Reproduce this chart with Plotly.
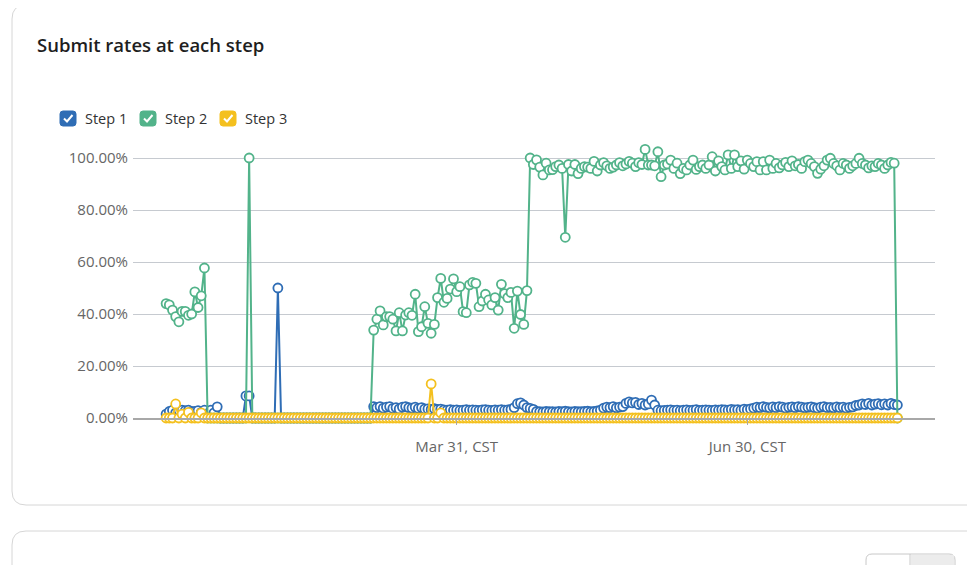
import plotly.graph_objects as go
import pandas as pd

# daily submit rates (%), Dec 31 2023 .. Aug 16 2024
start_day = "2023-12-31"
n_days = 230

step1 = [
    1.5, 2.5, 3.0, 2.0, 3.0, 3.0, 2.8, 3.0, 2.5, 2.5,
    2.8, 2.2, 3.0, 1.5, 3.0, 2.0, 4.3, 0, 0, 0,
    0, 0, 0, 0, 0, 8.5, 8.5, 0, 0, 0,
    0, 0, 0, 0, 0, 50.0, 0, 0, 0, 0,
    0, 0, 0, 0, 0, 0, 0, 0, 0, 0,
    0, 0, 0, 0, 0, 0, 0, 0, 0, 0,
    0, 0, 0, 0, 0, 4.4, 4.0, 4.4, 3.8, 4.2,
    4.4, 3.7, 4.0, 3.5, 4.2, 4.4, 4.0, 3.8, 4.2, 3.7,
    4.0, 3.5, 3.5, 3.3, 3.6, 3.3, 3.4, 3.1, 3.0, 3.2,
    3.0, 3.1, 2.9, 3.0, 3.2, 3.0, 3.1, 3.0, 2.9, 3.1,
    3.2, 3.0, 2.9, 3.1, 3.0, 3.2, 3.0, 3.1, 3.3, 4.0,
    5.5, 5.8, 5.0, 4.0, 3.7, 3.3, 2.5, 2.4, 2.3, 2.5,
    2.4, 2.4, 2.3, 2.5, 2.4, 2.6, 2.4, 2.3, 2.5, 2.4,
    2.4, 2.5, 2.6, 2.4, 2.5, 2.7, 3.0, 3.8, 4.2, 4.0,
    4.4, 3.9, 4.2, 4.4, 5.6, 6.2, 5.8, 6.0, 5.2, 5.6,
    5.0, 5.4, 6.9, 5.0, 3.0, 2.8, 2.9, 3.0, 3.1, 2.9,
    3.0, 2.8, 3.0, 3.1, 2.9, 3.0, 3.2, 2.9, 3.0, 3.1,
    3.0, 2.9, 3.1, 3.0, 3.2, 3.1, 3.0, 3.3, 3.1, 3.2,
    3.0, 3.4, 3.2, 3.5, 3.8, 4.2, 4.0, 4.4, 4.1, 3.9,
    4.3, 4.0, 4.4, 4.2, 3.8, 4.1, 4.3, 4.0, 4.4, 4.2,
    3.9, 4.1, 4.3, 4.0, 3.8, 4.2, 4.4, 4.0, 4.1, 3.9,
    4.3, 4.0, 4.2, 3.8, 4.1, 4.3, 4.8, 5.0, 5.4, 5.2,
    5.6, 5.0, 5.3, 5.5, 5.1, 5.4, 5.0, 5.6, 5.2, 5.0,
]

step2 = [
    44.0, 43.5, 41.5, 39.0, 37.0, 41.0, 41.0, 39.5, 40.0, 48.5,
    42.5, 47.0, 57.7, 0, 0, 0, 0, 0, 0, 0,
    0, 0, 0, 0, 0, 0, 100.0, 0, 0, 0,
    0, 0, 0, 0, 0, 0, 0, 0, 0, 0,
    0, 0, 0, 0, 0, 0, 0, 0, 0, 0,
    0, 0, 0, 0, 0, 0, 0, 0, 0, 0,
    0, 0, 0, 0, 0, 33.8, 38.0, 41.2, 35.8, 39.0,
    39.0, 38.0, 33.5, 40.5, 33.5, 39.6, 40.5, 39.5, 47.6, 33.2,
    35.1, 42.8, 36.4, 32.6, 36.0, 46.3, 53.7, 44.5, 46.0, 49.6,
    53.5, 48.6, 50.5, 40.9, 40.5, 51.2, 52.2, 51.8, 42.8, 45.0,
    47.6, 45.4, 43.5, 46.3, 41.5, 51.4, 47.8, 46.3, 48.3, 34.5,
    48.8, 39.8, 36.0, 49.0, 100.0, 97.5, 99.3, 96.5, 93.5, 98.0,
    95.4, 95.5, 96.7, 97.3, 96.0, 69.5, 97.5, 95.0, 97.5, 94.0,
    96.0, 96.7, 96.5, 96.0, 98.7, 95.0, 97.3, 98.2, 97.0, 96.0,
    96.5, 97.3, 98.2, 97.0, 97.7, 98.7, 98.0, 96.7, 98.2, 97.5,
    103.3, 97.3, 97.3, 97.0, 102.4, 92.8, 97.3, 97.7, 99.2, 96.0,
    98.0, 94.0, 96.0, 95.4, 97.3, 99.2, 95.6, 96.7, 97.3, 96.0,
    97.3, 100.5, 95.0, 98.9, 96.7, 95.4, 101.2, 96.0, 101.2, 96.7,
    98.9, 95.7, 99.2, 97.9, 96.7, 98.6, 95.4, 98.6, 95.4, 99.2,
    96.0, 97.9, 96.2, 97.3, 98.3, 96.7, 98.9, 97.0, 97.5, 96.0,
    98.6, 99.2, 97.9, 96.7, 94.1, 95.7, 97.0, 99.2, 99.9, 97.9,
    97.0, 95.4, 97.9, 97.3, 96.0, 97.0, 97.9, 99.9, 97.9, 97.3,
    96.2, 97.0, 96.7, 97.9, 97.3, 96.0, 97.3, 98.3, 98.0, 0,
]

step3 = [
    0, 0, 0, 5.4, 0, 1.5, 0, 2.2, 0, 0,
    0, 2.0, 0, 0, 0, 0, 0, 0, 0, 0,
    0, 0, 0, 0, 0, 0, 0, 0, 0, 0,
    0, 0, 0, 0, 0, 0, 0, 0, 0, 0,
    0, 0, 0, 0, 0, 0, 0, 0, 0, 0,
    0, 0, 0, 0, 0, 0, 0, 0, 0, 0,
    0, 0, 0, 0, 0, 0, 0, 0, 0, 0,
    0, 0, 0, 0, 0, 0, 0, 0, 0, 0,
    0, 0, 0, 13.1, 0, 0, 2.0, 0, 0, 0,
    0, 0, 0, 0, 0, 0, 0, 0, 0, 0,
    0, 0, 0, 0, 0, 0, 0, 0, 0, 0,
    0, 0, 0, 0, 0, 0, 0, 0, 0, 0,
    0, 0, 0, 0, 0, 0, 0, 0, 0, 0,
    0, 0, 0, 0, 0, 0, 0, 0, 0, 0,
    0, 0, 0, 0, 0, 0, 0, 0, 0, 0,
    0, 0, 0, 0, 0, 0, 0, 0, 0, 0,
    0, 0, 0, 0, 0, 0, 0, 0, 0, 0,
    0, 0, 0, 0, 0, 0, 0, 0, 0, 0,
    0, 0, 0, 0, 0, 0, 0, 0, 0, 0,
    0, 0, 0, 0, 0, 0, 0, 0, 0, 0,
    0, 0, 0, 0, 0, 0, 0, 0, 0, 0,
    0, 0, 0, 0, 0, 0, 0, 0, 0, 0,
    0, 0, 0, 0, 0, 0, 0, 0, 0, 0,
]

series_names = ["Step 1", "Step 2", "Step 3"]
colors = ["#2f6db5", "#52b38a", "#f4c01e"]
y_ticks = [0, 20, 40, 60, 80, 100]
y_tick_text = ["0.00%", "20.00%", "40.00%", "60.00%", "80.00%", "100.00%"]
x_tick_dates = ["2024-03-31", "2024-06-30"]
x_tick_text = ["Mar 31, CST", "Jun 30, CST"]

dates = pd.date_range(start_day, periods=n_days, freq="D")
t0 = pd.Timestamp(start_day)
x_range = [t0 - pd.Timedelta(days=10.37), t0 + pd.Timedelta(days=240.78)]

# page has an 8px body margin, so the figure is shifted up/left by that
OFF = 8
W, H = 975, 565
PX0, PY0 = 133, 148          # plot area top-left on the page
PW, PH = 802, 270
L, T = PX0 - OFF, PY0 - OFF
R, B = W - L - PW, H - T - PH


def px(x):
    return (x - PX0) / PW


def py(y):
    return (PY0 + PH - y) / PH


def rrect(x0, y0, x1, y1, r):
    return (f"M {px(x0 + r)},{py(y0)} L {px(x1 - r)},{py(y0)} "
            f"Q {px(x1)},{py(y0)} {px(x1)},{py(y0 + r)} L {px(x1)},{py(y1 - r)} "
            f"Q {px(x1)},{py(y1)} {px(x1 - r)},{py(y1)} L {px(x0 + r)},{py(y1)} "
            f"Q {px(x0)},{py(y1)} {px(x0)},{py(y1 - r)} L {px(x0)},{py(y0 + r)} "
            f"Q {px(x0)},{py(y0)} {px(x0 + r)},{py(y0)} Z")


fig = go.Figure()
for name, vals, c in zip(series_names, [step1, step2, step3], colors):
    fig.add_trace(go.Scatter(
        x=dates, y=vals, name=name, mode="lines+markers",
        line=dict(color=c, width=2),
        marker=dict(symbol="circle", size=9, color="white",
                    line=dict(color=c, width=1.8)),
        cliponaxis=False, showlegend=False,
    ))

shapes = [
    dict(type="path", path=rrect(12, 5, 995, 505, 14), xref="paper", yref="paper",
         line=dict(color="#d6d6d6", width=1), layer="below"),
    dict(type="path", path=rrect(12, 531, 995, 620, 14), xref="paper", yref="paper",
         line=dict(color="#d6d6d6", width=1), layer="below"),
    dict(type="path", path=rrect(866, 554, 955, 590, 6), xref="paper", yref="paper",
         line=dict(color="#c8c8c8", width=1), layer="below"),
    dict(type="rect", x0=px(911), x1=px(954), y0=py(566), y1=py(555), xref="paper",
         yref="paper", line=dict(width=0), fillcolor="#ececec", layer="below"),
    dict(type="line", x0=px(910), x1=px(910), y0=py(566), y1=py(554), xref="paper",
         yref="paper", line=dict(color="#c8c8c8", width=1)),
]

annotations = [
    dict(text="Submit rates at each step", x=px(35), y=py(45), xref="paper", yref="paper",
         xanchor="left", yanchor="middle", showarrow=False,
         font=dict(family="Open Sans", size=18.5, color="#1e1e1e", weight=600)),
]

# checkbox legend
legend_x = [60, 140, 220]
for name, c, lx in zip(series_names, colors, legend_x):
    shapes.append(dict(type="path", path=rrect(lx, 111, lx + 16, 126, 3), xref="paper",
                       yref="paper", fillcolor=c, line=dict(color=c, width=1)))
    shapes.append(dict(type="path",
                       path=f"M {px(lx + 4)},{py(118.5)} L {px(lx + 7)},{py(121.5)} "
                            f"L {px(lx + 12.5)},{py(115)}",
                       xref="paper", yref="paper", line=dict(color="white", width=2)))
    annotations.append(dict(text=name, x=px(lx + 23), y=py(118.5), xref="paper",
                            yref="paper", xanchor="left", yanchor="middle", showarrow=False,
                            font=dict(family="Open Sans", size=14.5, color="#333333")))

fig.update_layout(
    width=W, height=H,
    margin=dict(l=L, r=R, t=T, b=B),
    paper_bgcolor="white", plot_bgcolor="white",
    font=dict(family="Open Sans", color="#666666"),
    shapes=shapes, annotations=annotations,
    showlegend=False,
)
fig.update_xaxes(
    type="date", range=x_range, tickvals=x_tick_dates, ticktext=x_tick_text,
    showgrid=False, showline=True, linecolor="#a8a8a8", linewidth=1.5,
    ticks="outside", ticklen=5, tickcolor="#a8a8a8", tickfont=dict(size=15, color="#666666"),
    ticklabelstandoff=9, zeroline=False,
)
fig.update_yaxes(
    range=[0, PH / 2.6], tickvals=y_ticks, ticktext=y_tick_text,
    showgrid=True, gridcolor="#c6cad0", gridwidth=1, zeroline=False,
    tickfont=dict(size=15, color="#666666"), ticklabelstandoff=4,
)

fig.write_html("out.html")
